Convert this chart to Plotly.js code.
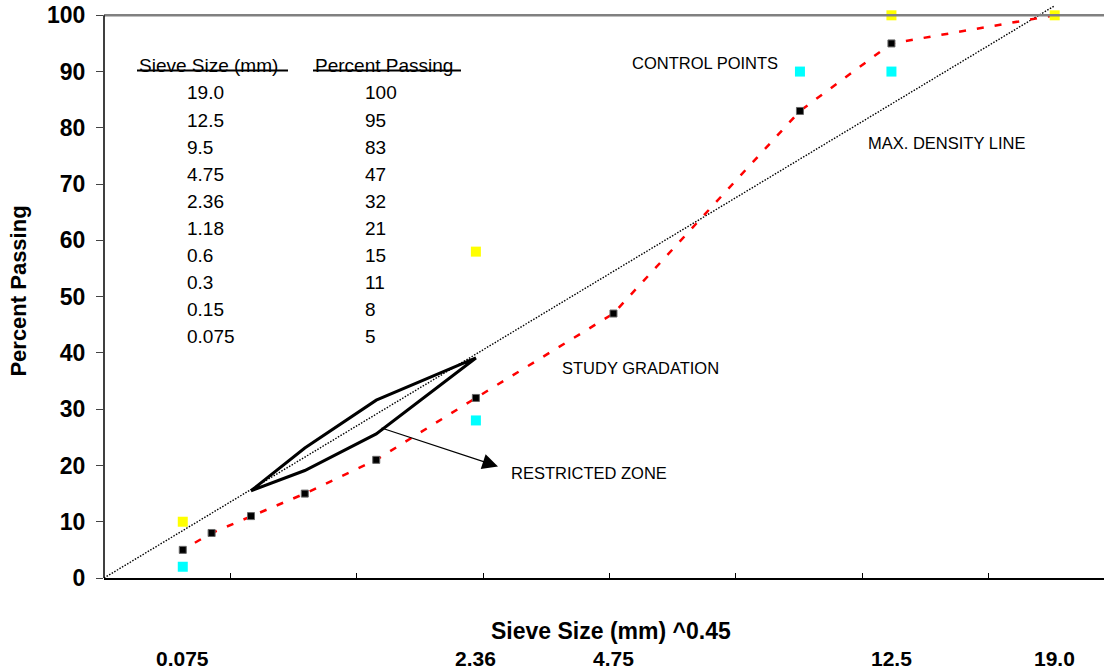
<!DOCTYPE html>
<html>
<head>
<meta charset="utf-8">
<script src="https://cdn.plot.ly/plotly-3.0.1.min.js"></script>
<style>html,body{margin:0;padding:0;background:#fff;}#chart{width:1104px;height:670px;}</style>
</head>
<body>
<div id="chart"></div>
<script>
// ---- data ----
const sieveSizes = [19.0, 12.5, 9.5, 4.75, 2.36, 1.18, 0.6, 0.3, 0.15, 0.075];
const sieveLabels = ['19.0', '12.5', '9.5', '4.75', '2.36', '1.18', '0.6', '0.3', '0.15', '0.075'];
const percentPassing = [100, 95, 83, 47, 32, 21, 15, 11, 8, 5];

const controlUpperSieve = [0.075, 2.36, 12.5, 19.0];
const controlUpperPct = [10, 58, 100, 100];
const controlLowerSieve = [0.075, 2.36, 9.5, 12.5];
const controlLowerPct = [2, 28, 90, 90];

const zoneSieve = [0.3, 0.6, 1.18, 2.36, 1.18, 0.6, 0.3];
const zonePct = [15.5, 23.1, 31.6, 39.1, 25.6, 19.1, 15.5];

const maxDensitySieve = [0, 19.0];
const maxDensityPct = [0, 101.7];

const axisSieveTicks = [0.075, 2.36, 4.75, 12.5, 19.0];
const axisSieveLabels = ['0.075', '2.36', '4.75', '12.5', '19.0'];

const tableHeaders = ['Sieve Size (mm)', 'Percent Passing'];

// ---- helpers ----
const EXP = 0.45;
const tx = s => Math.pow(s, EXP);
const FONT = 'Arial, "Liberation Sans", sans-serif';

const traces = [
  {
    x: maxDensitySieve.map(tx), y: maxDensityPct, mode: 'lines',
    line: {color: '#000', width: 1.4, dash: '1.5px,1.5px'},
    hoverinfo: 'skip', showlegend: false
  },
  {
    x: zoneSieve.map(tx), y: zonePct, mode: 'lines',
    line: {color: '#000', width: 3},
    showlegend: false
  },
  {
    x: sieveSizes.map(tx), y: percentPassing, mode: 'lines+markers',
    line: {color: '#ff0000', width: 2.5, dash: '7px,11px'},
    marker: {symbol: 'square', size: 7, color: '#000', line: {color: '#666', width: 1}},
    cliponaxis: false, showlegend: false
  },
  {
    x: controlUpperSieve.map(tx), y: controlUpperPct, mode: 'markers',
    marker: {symbol: 'square', size: 10, color: '#ffff00'},
    cliponaxis: false, showlegend: false
  },
  {
    x: controlLowerSieve.map(tx), y: controlLowerPct, mode: 'markers',
    marker: {symbol: 'square', size: 10, color: '#00ffff'},
    cliponaxis: false, showlegend: false
  }
];

// layout geometry (pixels -> paper)
const M = {l: 104, r: 0, t: 4, b: 92};
const W = 1104, H = 670;
const PW = W - M.l - M.r, PH = H - M.t - M.b;
const px2paperX = px => (px - M.l) / PW;
const py2paperY = py => (H - M.b - py) / PH;

const annotations = [];
// table headers
const headerLeft = [137, 313];
const headerRight = [288, 461];
tableHeaders.forEach((h, i) => {
  annotations.push({
    xref: 'paper', yref: 'paper', x: px2paperX(headerLeft[i]), y: py2paperY(65),
    xanchor: 'left', yanchor: 'middle', text: h, showarrow: false,
    font: {family: FONT, size: 19, color: '#000'}
  });
});
// table rows
sieveLabels.forEach((s, i) => {
  const py = 93 + 27.1 * i;
  annotations.push({
    xref: 'paper', yref: 'paper', x: px2paperX(185), y: py2paperY(py),
    xanchor: 'left', yanchor: 'middle', text: s, showarrow: false,
    font: {family: FONT, size: 19, color: '#000'}
  });
  annotations.push({
    xref: 'paper', yref: 'paper', x: px2paperX(363), y: py2paperY(py),
    xanchor: 'left', yanchor: 'middle', text: String(percentPassing[i]), showarrow: false,
    font: {family: FONT, size: 19, color: '#000'}
  });
});
// sieve labels under axis
axisSieveTicks.forEach((s, i) => {
  annotations.push({
    xref: 'x', yref: 'paper', x: tx(s), y: py2paperY(658),
    xanchor: 'center', yanchor: 'middle', text: '<b>' + axisSieveLabels[i] + '</b>', showarrow: false,
    font: {family: FONT, size: 21, color: '#000'}
  });
});
// x axis title
annotations.push({
  xref: 'paper', yref: 'paper', x: px2paperX(611), y: py2paperY(631),
  xanchor: 'center', yanchor: 'middle', text: '<b>Sieve Size (mm) ^0.45</b>', showarrow: false,
  font: {family: FONT, size: 23, color: '#000'}
});
// chart labels
const labelFont = {family: FONT, size: 16.5, color: '#000'};
annotations.push({xref: 'paper', yref: 'paper', x: px2paperX(705), y: py2paperY(63), text: 'CONTROL POINTS', showarrow: false, font: labelFont, xanchor: 'center', yanchor: 'middle'});
annotations.push({xref: 'paper', yref: 'paper', x: px2paperX(946), y: py2paperY(143), text: 'MAX. DENSITY LINE', showarrow: false, font: labelFont, xanchor: 'center', yanchor: 'middle'});
annotations.push({xref: 'paper', yref: 'paper', x: px2paperX(640), y: py2paperY(368), text: 'STUDY GRADATION', showarrow: false, font: labelFont, xanchor: 'center', yanchor: 'middle'});
annotations.push({xref: 'paper', yref: 'paper', x: px2paperX(589), y: py2paperY(473), text: 'RESTRICTED ZONE', showarrow: false, font: labelFont, xanchor: 'center', yanchor: 'middle'});
// arrow
annotations.push({
  xref: 'paper', yref: 'paper', x: px2paperX(498), y: py2paperY(466.5),
  axref: 'pixel', ayref: 'pixel', ax: -118, ay: -39,
  text: '', showarrow: true, arrowhead: 2, arrowsize: 2.4, arrowwidth: 1.3, arrowcolor: '#000'
});

const shapes = [
  // top gray border at 100
  {type: 'line', xref: 'paper', yref: 'y', x0: 0, x1: 1, y0: 100, y1: 100, line: {color: '#808080', width: 2.5}},
  // left axis line
  {type: 'line', xref: 'paper', yref: 'y', x0: 0, x1: 0, y0: 0, y1: 100, line: {color: '#000', width: 1.5}},
  // table header lines
  {type: 'line', xref: 'paper', yref: 'paper', x0: px2paperX(headerLeft[0]), x1: px2paperX(headerRight[0]), y0: py2paperY(70.5), y1: py2paperY(70.5), line: {color: '#000', width: 2}},
  {type: 'line', xref: 'paper', yref: 'paper', x0: px2paperX(headerLeft[1]), x1: px2paperX(headerRight[1]), y0: py2paperY(70.5), y1: py2paperY(70.5), line: {color: '#000', width: 2}}
];

const layout = {
  width: W, height: H,
  margin: M,
  paper_bgcolor: '#fff', plot_bgcolor: '#fff',
  font: {family: FONT, color: '#000'},
  showlegend: false,
  xaxis: {
    range: [0, PW / 252.7], tickmode: 'linear', tick0: 0, dtick: 0.5,
    ticks: 'inside', ticklen: 5, tickcolor: '#000', tickwidth: 1,
    showticklabels: false, showline: true, linecolor: '#000', linewidth: 1.5,
    showgrid: false, zeroline: false, fixedrange: true
  },
  yaxis: {
    range: [0, PH / 5.627], tickmode: 'array', tickvals: [0,10,20,30,40,50,60,70,80,90,100],
    ticks: 'outside', ticklen: 7, tickcolor: '#444', tickwidth: 1,
    ticklabelstandoff: 6,
    tickfont: {family: FONT, size: 23, color: '#000', weight: 'bold'},
    showline: false, showgrid: false, zeroline: false, fixedrange: true,
    title: {text: '<b>Percent Passing</b>', font: {family: FONT, size: 22, color: '#000'}, standoff: 14}
  },
  shapes: shapes,
  annotations: annotations
};

Plotly.newPlot('chart', traces, layout, {displayModeBar: false, staticPlot: true});
</script>
</body>
</html>
